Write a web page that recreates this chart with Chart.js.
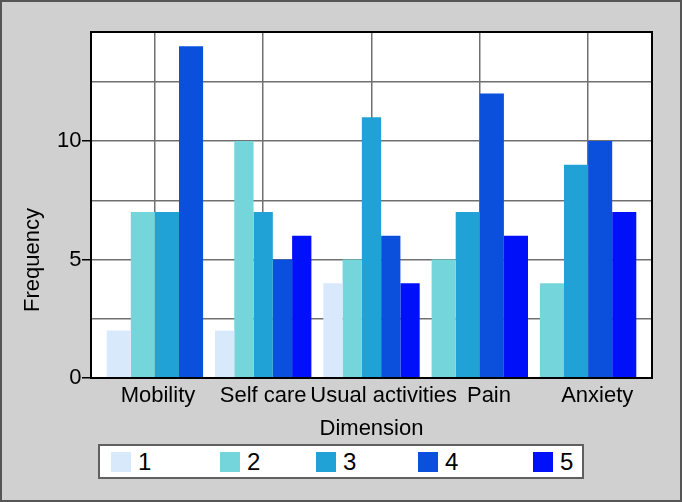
<!DOCTYPE html>
<html>
<head>
<meta charset="utf-8">
<script src="https://cdn.jsdelivr.net/npm/chart.js@4.4.1/dist/chart.umd.min.js"></script>
<style>
  html, body { margin: 0; padding: 0; background: #fff; }
  #wrap { position: relative; width: 682px; height: 502px; background: #d0d0d0; }
  #wrap:after { content: ''; position: absolute; inset: 0; border: 2px solid #555; pointer-events: none; }
  #chart { position: absolute; left: 0; top: 0; }
  #legend { position: absolute; left: 98px; top: 444px; width: 486px; height: 35px; box-sizing: border-box;
            border: 2px solid #606060; background: #fff; font: 24px "Liberation Sans", Arial, sans-serif; color: #000; }
  #legend .item { position: absolute; top: 0; height: 100%; display: flex; align-items: center; }
  #legend .sw { width: 20px; height: 20px; margin-right: 7px; }
</style>
</head>
<body>
<div id="wrap">
  <canvas id="chart" width="682" height="502"></canvas>
  <div id="legend"></div>
</div>
<script>
// ─── data ────────────────────────────────────────────────────────────────
const categories  = ['Mobility', 'Self care', 'Usual activities', 'Pain', 'Anxiety'];
const seriesNames = ['1', '2', '3', '4', '5'];
const level1 = [2, 2, 4, null, null];
const level2 = [7, 10, 5, 5, 4];
const level3 = [7, 7, 11, 7, 9];
const level4 = [14, 5, 6, 12, 10];
const level5 = [null, 6, 4, 6, 7];
const yLabels = [0, 5, 10];

// ─── style ───────────────────────────────────────────────────────────────
const colors     = ['#d8e9fc', '#74d6da', '#20a2d6', '#0a50dc', '#0010f8'];
const legendX    = [11, 120, 216, 318, 433];   // swatch offsets inside the legend box
const labelNudge = [1, 0, 4, 3, 3];            // leading spaces: the source nudges some labels right
const gridCol    = '#707070';

Chart.defaults.font.family = '"Liberation Sans", Arial, sans-serif';
Chart.defaults.color = '#000';

// white plot area + full black frame
const plotFrame = {
  id: 'plotFrame',
  beforeDraw(chart) {
    const { ctx, chartArea: a } = chart;
    ctx.save();
    ctx.fillStyle = '#fff';
    ctx.fillRect(a.left, a.top, a.right - a.left, a.bottom - a.top);
    ctx.restore();
  },
  afterDatasetsDraw(chart) {
    const { ctx, chartArea: a } = chart;
    ctx.save();
    ctx.strokeStyle = '#000';
    ctx.lineWidth = 2;
    ctx.strokeRect(a.left, a.top, a.right - a.left, a.bottom - a.top);
    ctx.restore();
  }
};

const toPoints = arr => arr.map((y, x) => ({ x, y })).filter(p => p.y !== null);
const series = [level1, level2, level3, level4, level5];

const chart = new Chart(document.getElementById('chart'), {
  type: 'bar',
  data: {
    datasets: series.map((s, i) => ({
      label: seriesNames[i],
      data: toPoints(s),
      backgroundColor: colors[i],
      borderWidth: 0
    }))
  },
  options: {
    responsive: false,
    animation: false,
    layout: { padding: { left: 0, right: 30, top: 32, bottom: 60 } },
    datasets: { bar: { skipNull: true, categoryPercentage: 0.89, barPercentage: 1 } },
    plugins: { legend: { display: false }, tooltip: { enabled: false } },
    scales: {
      x: {
        type: 'linear', min: -0.59, max: 4.59, offset: false,
        grid: { color: gridCol, lineWidth: 1.5, drawTicks: false, offset: false },
        border: { display: false },
        ticks: {
          stepSize: 1, includeBounds: false, autoSkip: false, maxRotation: 0, padding: 5,
          font: { size: 22 },
          callback: v => categories[v] !== undefined ? '\u00a0'.repeat(labelNudge[v]) + categories[v] : ''
        },
        title: { display: true, text: 'Dimension', font: { size: 22 }, padding: { top: 0, bottom: 0 } },
        afterFit: s => { s.height = 64; }
      },
      y: {
        min: 0, max: 14.6,
        grid: {
          color: gridCol, lineWidth: 1.5, tickLength: 9,
          tickColor: c => (c.tick && yLabels.includes(c.tick.value)) ? '#000' : 'rgba(0,0,0,0)'
        },
        border: { display: false },
        ticks: {
          stepSize: 2.5, includeBounds: false, padding: 0.5, font: { size: 22 },
          callback: v => yLabels.includes(v) ? v : ''
        },
        title: { display: true, text: 'Frequency' + ' '.repeat(18), font: { size: 22 }, padding: { top: 20, bottom: 0 } },
        afterFit: s => { s.width = 91; }
      }
    }
  },
  plugins: [plotFrame]
});

// ─── html legend ─────────────────────────────────────────────────────────
const legendEl = document.getElementById('legend');
chart.data.datasets.forEach((ds, i) => {
  const item = document.createElement('div');
  item.className = 'item';
  item.style.left = legendX[i] + 'px';
  item.innerHTML = `<span class="sw" style="background:${ds.backgroundColor}"></span><span>${ds.label}</span>`;
  legendEl.appendChild(item);
});
</script>
</body>
</html>
